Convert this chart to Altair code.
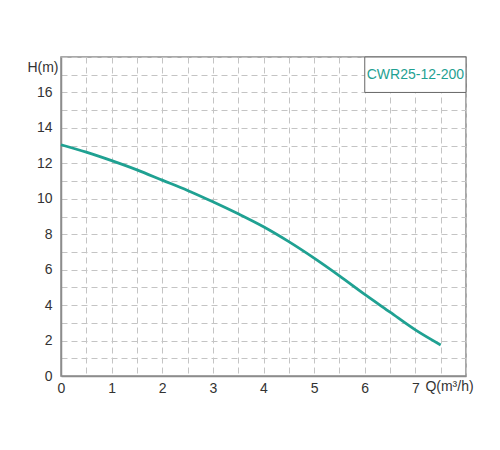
import altair as alt
import pandas as pd

flow = [0, 0.5, 1, 1.5, 2, 2.5, 3, 3.5, 4, 4.5, 5, 5.5, 6, 6.5, 7, 7.5]
head = [13.05, 12.63, 12.15, 11.63, 11.05, 10.47, 9.83, 9.15, 8.42, 7.58, 6.65, 5.65, 4.6, 3.6, 2.6, 1.75]
model = "CWR25-12-200"
x_ticks = [i * 0.5 for i in range(17)]
y_ticks = list(range(19))

teal = "#1fa192"
grid_color = "#c4c4c4"
axis_color = "#8c8c8c"
font = "Liberation Sans"

curve_df = pd.DataFrame({"q": flow, "h": head})
box_df = pd.DataFrame({"x1": [6], "x2": [8], "y1": [16], "y2": [18], "xc": [7], "yc": [17], "label": [model]})

xscale = alt.Scale(domain=[0, 8], nice=False, zero=True)
yscale = alt.Scale(domain=[0, 18], nice=False, zero=True)

xaxis = alt.Axis(
    values=x_ticks,
    labelExpr="datum.value % 1 == 0 && datum.value < 8 ? datum.value : ''",
    labelOverlap=False, labelFlush=False,
    grid=True, gridDash=[6, 4], gridColor=grid_color, gridWidth=1,
    ticks=False, domainColor=axis_color, domainWidth=1.5,
    labelFont=font, labelFontSize=14, labelColor="#333", labelPadding=5,
    title="Q(m³/h)", titleFont=font, titleFontSize=14, titleFontWeight="normal",
    titleColor="#333", titleX=388, titleY=10, titleAlign="center", titleBaseline="middle",
)
yaxis = alt.Axis(
    values=y_ticks,
    labelExpr="datum.value % 2 == 0 && datum.value <= 16 ? datum.value : ''",
    labelOverlap=False, labelFlush=False,
    grid=True, gridDash=[6, 4], gridColor=grid_color, gridWidth=1,
    ticks=False, domainColor=axis_color, domainWidth=1.5,
    labelFont=font, labelFontSize=14, labelColor="#333", labelPadding=9,
    title="H(m)", titleFont=font, titleFontSize=14, titleFontWeight="normal",
    titleColor="#333", titleAngle=0, titleX=-3, titleY=10, titleAlign="right", titleBaseline="middle",
)

curve = alt.Chart(curve_df).mark_line(color=teal, strokeWidth=2.8, interpolate="monotone").encode(
    x=alt.X("q:Q", scale=xscale, axis=xaxis),
    y=alt.Y("h:Q", scale=yscale, axis=yaxis),
)

box = alt.Chart(box_df).mark_rect(fill="white", stroke="#666", strokeWidth=1).encode(
    x=alt.X("x1:Q", scale=xscale, axis=xaxis), x2="x2:Q",
    y=alt.Y("y1:Q", scale=yscale, axis=yaxis), y2="y2:Q",
)

label = alt.Chart(box_df).mark_text(color=teal, font=font, fontSize=14).encode(
    x=alt.X("xc:Q", scale=xscale, axis=xaxis),
    y=alt.Y("yc:Q", scale=yscale, axis=yaxis),
    text="label:N",
)

chart = alt.layer(curve, box, label).properties(
    width=405, height=319,
    autosize=alt.AutoSizeParams(type="none"),
    padding={"left": 53, "top": 49, "right": 10, "bottom": 40},
).configure_view(stroke=axis_color, strokeWidth=1.5)

chart.save("out.html", embed_options={"renderer": "svg", "actions": False})
